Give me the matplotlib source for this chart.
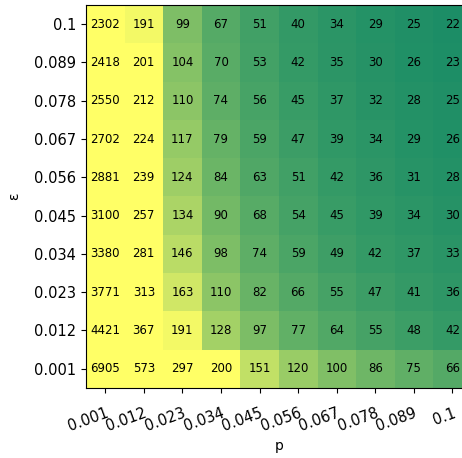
import matplotlib

matplotlib.use("Agg")
import matplotlib.pyplot as plt
import numpy as np

p_labels = ["0.001", "0.012", "0.023", "0.034", "0.045",
            "0.056", "0.067", "0.078", "0.089", "0.1"]
eps_labels = ["0.1", "0.089", "0.078", "0.067", "0.056",
              "0.045", "0.034", "0.023", "0.012", "0.001"]

# rows follow eps_labels (top to bottom), columns follow p_labels
counts = [
    [2302, 191, 99, 67, 51, 40, 34, 29, 25, 22],
    [2418, 201, 104, 70, 53, 42, 35, 30, 26, 23],
    [2550, 212, 110, 74, 56, 45, 37, 32, 28, 25],
    [2702, 224, 117, 79, 59, 47, 39, 34, 29, 26],
    [2881, 239, 124, 84, 63, 51, 42, 36, 31, 28],
    [3100, 257, 134, 90, 68, 54, 45, 39, 34, 30],
    [3380, 281, 146, 98, 74, 59, 49, 42, 37, 33],
    [3771, 313, 163, 110, 82, 66, 55, 47, 41, 36],
    [4421, 367, 191, 128, 97, 77, 64, 55, 48, 42],
    [6905, 573, 297, 200, 151, 120, 100, 86, 75, 66],
]

grid = np.array(counts)

fig = plt.figure(figsize=(4.62, 4.58), dpi=100)
# the grid runs a little past the right edge of the canvas
ax = fig.add_axes([0.186, 0.153, 0.835, 0.836])
# colour saturates at 200 so the small counts stay readable
ax.imshow(grid, cmap="summer", vmin=0, vmax=200, aspect="auto")

for i in range(grid.shape[0]):
    for j in range(grid.shape[1]):
        ax.text(j, i, str(grid[i, j]), ha="center", va="center",
                fontsize=8.5, color="black")

ax.set_xticks(range(len(p_labels)))
ax.set_xticklabels(p_labels, rotation=20, ha="right", va="top",
                   rotation_mode="anchor", fontsize=10.5)
ax.tick_params(axis="x", pad=9)
ax.set_yticks(range(len(eps_labels)))
ax.set_yticklabels(eps_labels, fontsize=10.5)
ax.set_xlabel("p", labelpad=4)
ax.set_ylabel("ε", labelpad=9)

fig.savefig("out.png", dpi=100)
